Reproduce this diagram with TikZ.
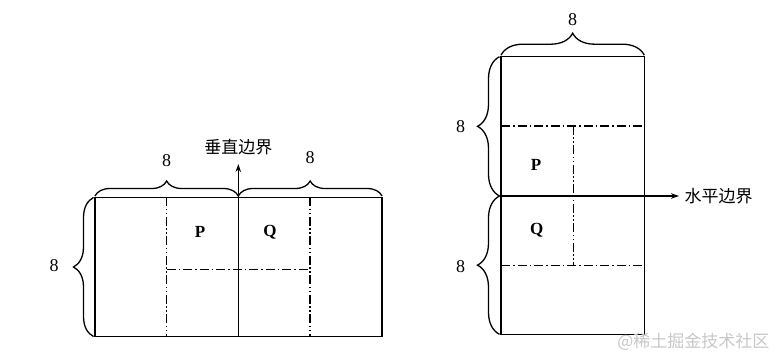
\documentclass[tikz,border=0pt]{standalone}
\usepackage{fontspec}
\setmainfont{Liberation Serif}
\newfontfamily\cjk{Noto Sans CJK SC}
\usetikzlibrary{decorations.pathreplacing,arrows.meta}
\begin{document}
\begin{tikzpicture}[x=1pt,y=-1pt,
  solidline/.style={line width=1.5pt},
  dashdot/.style={line width=1.2pt,dash pattern=on 9pt off 3pt on 1.5pt off 3pt},
  dashdotdot/.style={line width=1.2pt,dash pattern=on 9pt off 2.5pt on 1.5pt off 2.5pt on 1.5pt off 2.5pt},
  bracestyle/.style={line width=1.3pt,decorate,decoration={brace,amplitude=#1,raise=1.5pt}},
  num/.style={font=\fontsize{18}{18}\selectfont},
  cell/.style={font=\fontsize{17}{17}\selectfont\bfseries},
  lab/.style={font=\cjk\fontsize{17}{17}\selectfont},
  arr/.style={line width=1.2pt,-{Stealth[length=8pt,width=5.5pt]}}]
\useasboundingbox (0,0) rectangle (777,355);
% ---------- left figure ----------
\coordinate (L1) at (95,197.5);
\coordinate (L2) at (238.3,197.5);
\coordinate (L3) at (382,197.5);
\coordinate (L4) at (382,336.5);
\coordinate (L5) at (95,336.5);
\coordinate (L6) at (238.3,336.5);
\draw[solidline] (L1) -- (L3) -- (L4) -- (L5) -- cycle;
\draw[solidline] (L2) -- (L6);
\coordinate (la) at (166.7,197.5);
\coordinate (lb) at (166.7,336.5);
\coordinate (lc) at (310,197.5);
\coordinate (ld) at (310,336.5);
\coordinate (le) at (166.7,269.3);
\coordinate (lf) at (310,269.3);
\draw[dashdotdot] (la) -- (lb);
\draw[dashdotdot] (lc) -- (ld);
\draw[dashdot] (le) -- (lf);
\node[cell] (P1) at (200,232) {P};
\node[cell] (Q1) at (270,232) {Q};
\draw[bracestyle=15pt] (L1) -- (L2);
\draw[bracestyle=15pt] (L2) -- (L3);
\draw[bracestyle=20pt] (L5) -- (L1);
\node[num] (n1) at (166.7,160.5) {8};
\node[num] (n2) at (310,158) {8};
\node[num] (n3) at (54,266) {8};
\node[lab] (vb) at (238.3,147) {垂直边界};
\coordinate (varr) at (238.3,164);
\draw[arr] (L2) -- (varr);
% ---------- right figure ----------
\coordinate (R1) at (501,56.7);
\coordinate (R2) at (644.3,56.7);
\coordinate (R3) at (644.3,334.3);
\coordinate (R4) at (501,334.3);
\coordinate (R5) at (501,196);
\coordinate (R6) at (644.3,196);
\draw[solidline] (R1) -- (R2) -- (R3) -- (R4) -- cycle;
\draw[solidline] (R5) -- (R6);
\coordinate (ra) at (501,126);
\coordinate (rb) at (644.3,126);
\coordinate (rc) at (501,265.7);
\coordinate (rd) at (644.3,265.7);
\coordinate (re) at (573.3,126);
\coordinate (rf) at (573.3,265.7);
\draw[dashdot] (ra) -- (rb);
\draw[dashdot] (rc) -- (rd);
\draw[dashdotdot] (re) -- (rf);
\node[cell] (P2) at (536,165) {P};
\node[cell] (Q2) at (536.7,230) {Q};
\draw[bracestyle=22pt] (R1) -- (R2);
\draw[bracestyle=22pt] (R5) -- (R1);
\draw[bracestyle=22pt] (R4) -- (R5);
\node[num] (n4) at (572.7,19.5) {8};
\node[num] (n5) at (460.7,126.5) {8};
\node[num] (n6) at (460.7,266.5) {8};
\coordinate (harr) at (679,196);
\draw[arr] (R6) -- (harr);
\node[lab,anchor=west] (hb) at (681,196) {水平边界};
% watermark
\node[font=\cjk\fontsize{17}{17}\selectfont,text=black!22,anchor=east] (wm) at (773,342) {@稀土掘金技术社区};
\end{tikzpicture}
\end{document}
